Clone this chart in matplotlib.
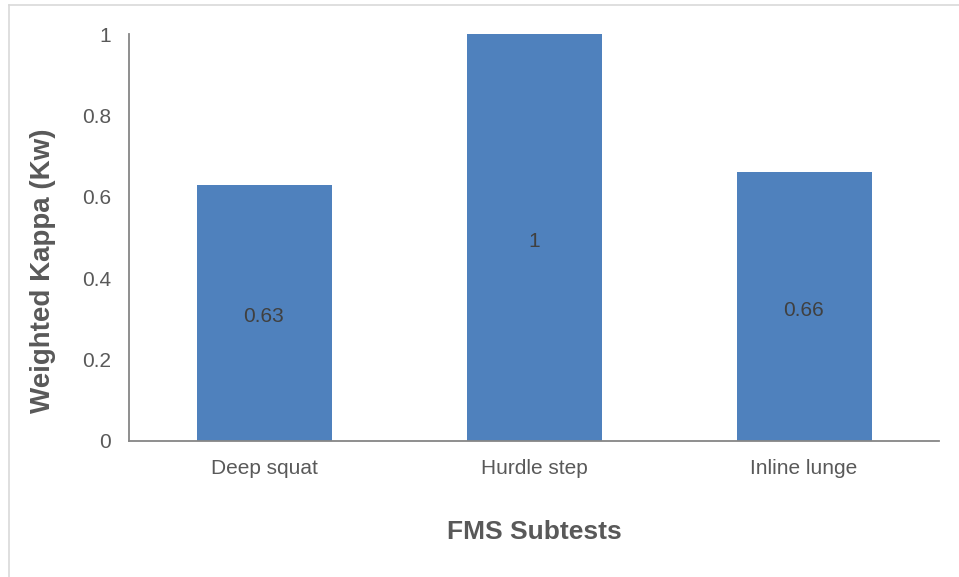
import matplotlib
matplotlib.use("Agg")
import matplotlib.pyplot as plt
from matplotlib.lines import Line2D

plt.rcParams['font.family'] = ['Liberation Sans', 'DejaVu Sans']

categories = ["Deep squat", "Hurdle step", "Inline lunge"]
kappa = [0.63, 1.0, 0.66]
value_labels = ["0.63", "1", "0.66"]
y_ticks = [0, 0.2, 0.4, 0.6, 0.8, 1]
y_tick_labels = ["0", "0.2", "0.4", "0.6", "0.8", "1"]

W, H = 959, 577
fig = plt.figure(figsize=(W / 100, H / 100), dpi=100)
ax = fig.add_axes([129 / W, 1 - 441 / H, (939 - 129) / W, (441 - 34) / H])

text_color = "#595959"
axis_color = "#868686"
bar_color = "#4F81BD"

x = list(range(len(categories)))
ax.bar(x, kappa, width=0.5, color=bar_color, zorder=2)
for xi, v, lab in zip(x, kappa, value_labels):
    ax.annotate(lab, (xi, v / 2), xytext=(0, -3), textcoords="offset points",
                ha="center", va="center", fontsize=15, color="#404040")

ax.set_xlim(-0.5, len(categories) - 0.5)
ax.set_ylim(0, 1)
ax.set_xticks(x)
ax.set_xticklabels(categories, fontsize=15, color=text_color)
ax.set_yticks(y_ticks)
ax.set_yticklabels(y_tick_labels, fontsize=15, color=text_color)
ax.tick_params(axis="both", length=0)
ax.tick_params(axis="x", pad=13)
ax.tick_params(axis="y", pad=13)

for side in ("top", "right"):
    ax.spines[side].set_visible(False)
for side in ("left", "bottom"):
    ax.spines[side].set_color(axis_color)
    ax.spines[side].set_linewidth(1.3)

ax.set_ylabel("Weighted Kappa (Kw)", fontsize=20, fontweight="bold", color=text_color, va="center")
ax.set_xlabel("FMS Subtests", fontsize=19, fontweight="bold", color=text_color, va="center")
ax.yaxis.set_label_coords((43 - 129) / 810, (441 - 271) / 407)
ax.xaxis.set_label_coords(0.5, (441 - 532) / 407)

# chart-area frame (left and top edges)
fig.add_artist(Line2D([8.5 / W, 8.5 / W], [0, 1 - 5 / H], transform=fig.transFigure, color="#D9D9D9", lw=1.2))
fig.add_artist(Line2D([8.5 / W, 1], [1 - 5 / H, 1 - 5 / H], transform=fig.transFigure, color="#D9D9D9", lw=1.2))

fig.savefig("out.png", dpi=100)
